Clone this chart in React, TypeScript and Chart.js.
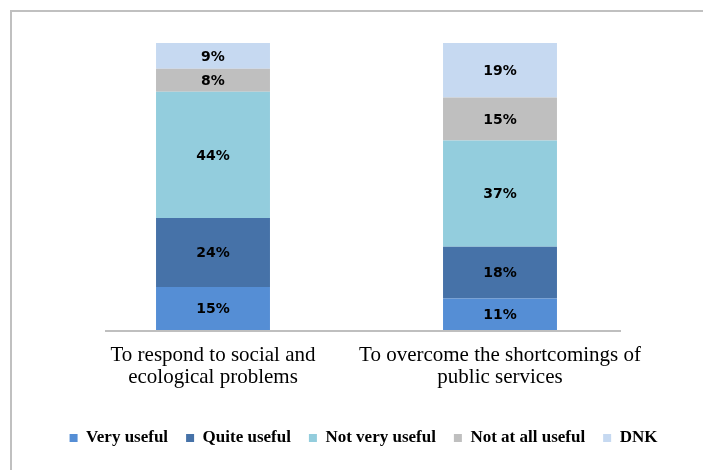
import React, { useEffect, useRef } from "react";
import { Chart, registerables } from "chart.js";

Chart.register(...registerables);

const categories = [
  ["To respond to social and", "ecological problems"],
  ["To overcome the shortcomings of", "public services"],
];
const seriesNames = ["Very useful", "Quite useful", "Not very useful", "Not at all useful", "DNK"];
const veryUseful = [15, 11];
const quiteUseful = [24, 18];
const notVeryUseful = [44, 37];
const notAtAllUseful = [8, 15];
const dnk = [9, 19];
const seriesColors = ["#558ED5", "#4672A8", "#93CDDD", "#BFBFBF", "#C6D9F1"];

const segmentLabels = {
  id: "segmentLabels",
  afterDatasetsDraw(chart: any) {
    const ctx = chart.ctx;
    ctx.save();
    ctx.font = "bold 14px 'DejaVu Sans'";
    ctx.fillStyle = "#000000";
    ctx.textAlign = "center";
    ctx.textBaseline = "middle";
    chart.data.datasets.forEach((ds: any, i: number) => {
      const meta = chart.getDatasetMeta(i);
      meta.data.forEach((el: any, j: number) => {
        const { x, y, base } = el.getProps(["x", "y", "base"], true);
        ctx.fillText(ds.data[j] + "%", x, (y + base) / 2 + 1);
      });
    });
    ctx.restore();
  },
};

const baseline = {
  id: "baseline",
  beforeDatasetsDraw(chart: any, _args: any, opts: any) {
    const xs = chart.scales.x;
    const ys = chart.scales.y;
    const py = ys.getPixelForValue(0);
    const ctx = chart.ctx;
    ctx.save();
    ctx.strokeStyle = opts.color || "#bfbfbf";
    ctx.lineWidth = 2;
    ctx.beginPath();
    ctx.moveTo(xs.left + (opts.insetLeft || 0), py + 1);
    ctx.lineTo(xs.right - (opts.insetRight || 0), py + 1);
    ctx.stroke();
    ctx.restore();
  },
};

export default function App() {
  const ref = useRef<HTMLCanvasElement | null>(null);

  useEffect(() => {
    if (!ref.current) return;
    const seriesData = [veryUseful, quiteUseful, notVeryUseful, notAtAllUseful, dnk];
    const chart = new Chart(ref.current, {
      type: "bar",
      data: {
        labels: categories,
        datasets: seriesNames.map((name, i) => ({
          label: name,
          data: seriesData[i],
          backgroundColor: seriesColors[i],
          borderWidth: 0,
          categoryPercentage: 1,
          barPercentage: 0.397,
        })),
      },
      options: {
        responsive: false,
        animation: false,
        layout: { padding: { left: 12, right: 0, top: 31, bottom: 13.5 } },
        scales: {
          x: {
            stacked: true,
            offset: true,
            grid: { display: false, drawTicks: false },
            border: { display: false },
            ticks: {
              color: "#000000",
              padding: 14,
              maxRotation: 0,
              autoSkip: false,
              font: { family: "'Liberation Serif'", size: 21, lineHeight: 1.05 },
            },
            afterFit: (s: any) => {
              s.height = 81.5;
            },
          },
          y: {
            stacked: true,
            min: 0,
            max: 100,
            position: "left",
            grid: { display: false, drawTicks: false },
            border: { display: false },
            ticks: { display: false },
            afterFit: (s: any) => {
              s.width = 45.5;
            },
          },
          y2: {
            min: 0,
            max: 100,
            position: "right",
            grid: { display: false, drawTicks: false },
            border: { display: false },
            ticks: { display: false },
            afterFit: (s: any) => {
              s.width = 59.5;
            },
          },
        },
        plugins: {
          legend: {
            position: "bottom",
            labels: {
              color: "#000000",
              boxWidth: 8,
              boxHeight: 8,
              padding: 18,
              font: { family: "'Liberation Serif'", size: 17, weight: "bold" },
            },
          },
          tooltip: { enabled: false },
          baseline: { color: "#bfbfbf", insetLeft: 35.5, insetRight: 22.5 },
        } as any,
      },
      plugins: [segmentLabels, baseline],
    });
    return () => chart.destroy();
  }, []);

  return (
    <div
      style={{
        position: "absolute",
        left: 10,
        top: 10,
        width: 693,
        height: 460,
        boxSizing: "border-box",
        borderTop: "2px solid #c0c0c0",
        borderLeft: "2px solid #c0c0c0",
        background: "#ffffff",
      }}
    >
      <canvas ref={ref} width={691} height={458} style={{ display: "block", width: 691, height: 458 }} />
    </div>
  );
}
